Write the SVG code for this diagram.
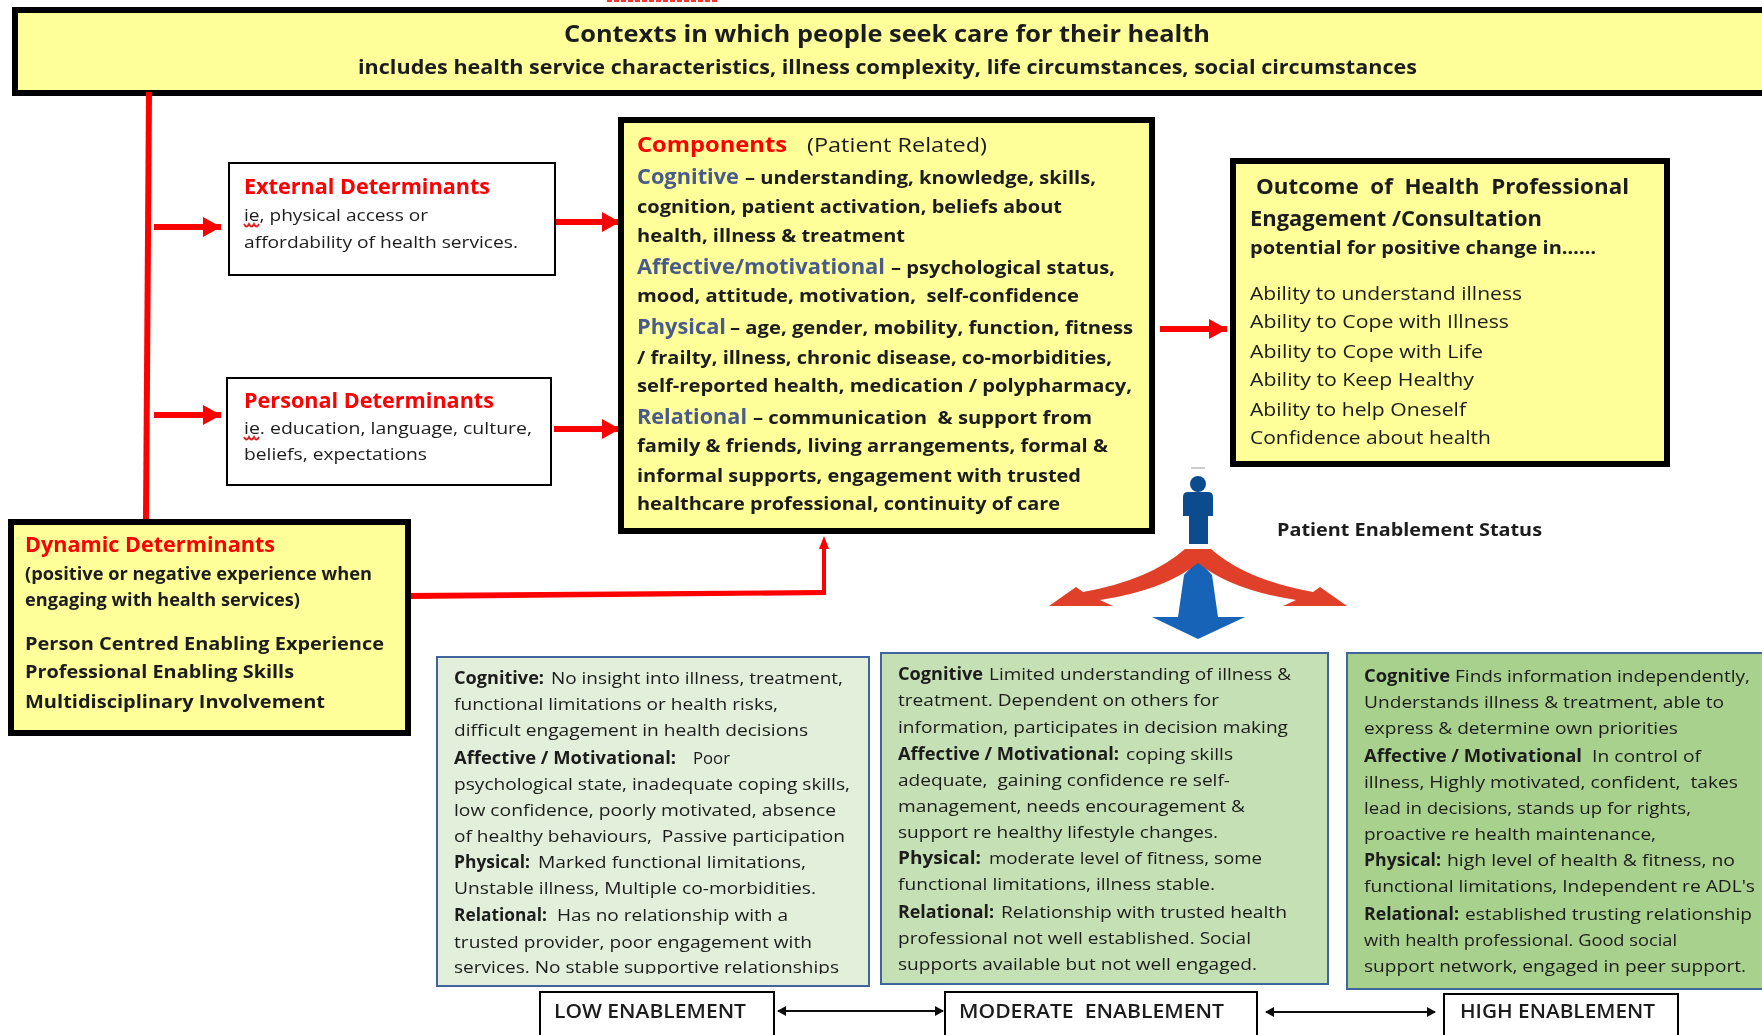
<svg xmlns="http://www.w3.org/2000/svg" width="1762" height="1035" viewBox="0 0 1762 1035">
<style>
text{font-family:"Open Sans","Noto Sans","Liberation Sans",sans-serif;fill:#1c1c1c;font-size:17px;white-space:pre}
.b{font-weight:700}
.s{font-weight:600}
.r{fill:#f00;font-weight:700;font-size:21px}
.c{fill:#4a5a8c;font-weight:700;font-size:22px}
.h{font-size:23px;font-weight:700}
.y{fill:#ffff99;stroke:#000;stroke-width:6}
.w{fill:#fff;stroke:#000;stroke-width:2}
.g{stroke:#41659c;stroke-width:2}
.a{fill:none;stroke:#f00;stroke-width:6;marker-end:url(#rh)}
.k{fill:none;stroke:#111;stroke-width:2;marker-start:url(#kh);marker-end:url(#kh)}
.z{fill:none;stroke:#d22;stroke-width:1.8}
</style>
<defs>
<marker id="rh" markerUnits="userSpaceOnUse" markerWidth="20" markerHeight="22" refX="18" refY="11" orient="auto"><path d="M0 1L18 11L0 21z" fill="#f00"/></marker>
<marker id="kh" markerUnits="userSpaceOnUse" markerWidth="10" markerHeight="12" refX="8" refY="6" orient="auto-start-reverse"><path d="M0 1L9 6L0 11z" fill="#111"/></marker>
<clipPath id="lowclip"><rect x="437" y="657" width="432" height="317"/></clipPath>
<filter id="soft" filterUnits="userSpaceOnUse" x="0" y="0" width="1762" height="1035"><feGaussianBlur stdDeviation="0.4"/></filter>
</defs>
<rect width="1762" height="1035" fill="#fff"/>
<g filter="url(#soft)">
<path d="M607 1H719" stroke="#f33" stroke-width="2" stroke-dasharray="5 2"/>
<g id="contexts">
<rect class="y" x="15" y="10" width="1760" height="83"/>
<text class="h" x="564" y="42" textLength="646" lengthAdjust="spacingAndGlyphs">Contexts in which people seek care for their health</text>
<text class="b" x="358" y="74" textLength="1059" lengthAdjust="spacingAndGlyphs" style="font-size:20px">includes health service characteristics, illness complexity, life circumstances, social circumstances</text>
</g>
<g id="connectors">
<path d="M149 92L146 520" fill="none" stroke="#f00" stroke-width="6"/>
<path class="a" d="M154 227H221"/>
<path class="a" d="M154 415H221"/>
<path class="a" d="M554 222H620"/>
<path class="a" d="M554 429H620"/>
<path class="a" d="M1160 329H1227"/>
<path d="M409 593L822 590V549H819L824 536L829 549H826V595L409 599z" fill="#f00"/>
<path class="k" d="M778 1011H943"/>
<path class="k" d="M1266 1012H1435"/>
</g>
<g id="external">
<rect class="w" x="229" y="163" width="326" height="112"/>
<text class="r" x="244" y="194" textLength="246" lengthAdjust="spacingAndGlyphs">External Determinants</text>
<text x="244" y="221" textLength="184" lengthAdjust="spacingAndGlyphs">ie, physical access or</text>
<text x="244" y="248" textLength="274" lengthAdjust="spacingAndGlyphs">affordability of health services.</text>
<path class="z" d="M244 224q2.5 5 5 0q2.5 5 5 0q2.5 5 5 0"/>
</g>
<g id="personal">
<rect class="w" x="227" y="378" width="324" height="107"/>
<text class="r" x="244" y="408" textLength="250" lengthAdjust="spacingAndGlyphs">Personal Determinants</text>
<text x="244" y="434" textLength="288" lengthAdjust="spacingAndGlyphs">ie. education, language, culture,</text>
<text x="244" y="460" textLength="183" lengthAdjust="spacingAndGlyphs">beliefs, expectations</text>
<path class="z" d="M244 437q2.5 5 5 0q2.5 5 5 0q2.5 5 5 0"/>
</g>
<g id="components">
<rect class="y" x="621" y="120" width="531" height="411"/>
<text class="r" x="637" y="152" textLength="150" lengthAdjust="spacingAndGlyphs">Components</text>
<text x="807" y="152" textLength="180" lengthAdjust="spacingAndGlyphs" style="font-size:20px">(Patient Related)</text>
<text class="c" x="637" y="184" textLength="102" lengthAdjust="spacingAndGlyphs">Cognitive</text>
<text class="b" x="745" y="184" textLength="351" lengthAdjust="spacingAndGlyphs" style="font-size:18px">– understanding, knowledge, skills,</text>
<text class="b" x="637" y="213" textLength="425" lengthAdjust="spacingAndGlyphs" style="font-size:18px">cognition, patient activation, beliefs about</text>
<text class="b" x="637" y="242" textLength="268" lengthAdjust="spacingAndGlyphs" style="font-size:18px">health, illness &amp; treatment</text>
<text class="c" x="637" y="274" textLength="248" lengthAdjust="spacingAndGlyphs">Affective/motivational</text>
<text class="b" x="891" y="274" textLength="224" lengthAdjust="spacingAndGlyphs" style="font-size:18px">– psychological status,</text>
<text class="b" x="637" y="302" textLength="442" lengthAdjust="spacingAndGlyphs" style="font-size:18px">mood, attitude, motivation,  self-confidence</text>
<text class="c" x="637" y="334" textLength="89" lengthAdjust="spacingAndGlyphs">Physical</text>
<text class="b" x="730" y="334" textLength="403" lengthAdjust="spacingAndGlyphs" style="font-size:18px">– age, gender, mobility, function, fitness</text>
<text class="b" x="637" y="364" textLength="475" lengthAdjust="spacingAndGlyphs" style="font-size:18px">/ frailty, illness, chronic disease, co-morbidities,</text>
<text class="b" x="637" y="392" textLength="495" lengthAdjust="spacingAndGlyphs" style="font-size:18px">self-reported health, medication / polypharmacy,</text>
<text class="c" x="637" y="424" textLength="110" lengthAdjust="spacingAndGlyphs">Relational</text>
<text class="b" x="753" y="424" textLength="339" lengthAdjust="spacingAndGlyphs" style="font-size:18px">– communication  &amp; support from</text>
<text class="b" x="637" y="452" textLength="471" lengthAdjust="spacingAndGlyphs" style="font-size:18px">family &amp; friends, living arrangements, formal &amp;</text>
<text class="b" x="637" y="482" textLength="444" lengthAdjust="spacingAndGlyphs" style="font-size:18px">informal supports, engagement with trusted</text>
<text class="b" x="637" y="510" textLength="423" lengthAdjust="spacingAndGlyphs" style="font-size:18px">healthcare professional, continuity of care</text>
</g>
<g id="outcome">
<rect class="y" x="1233" y="161" width="434" height="303"/>
<text class="b" x="1256" y="194" textLength="373" lengthAdjust="spacingAndGlyphs" style="font-size:21px">Outcome  of  Health  Professional</text>
<text class="b" x="1250" y="226" textLength="292" lengthAdjust="spacingAndGlyphs" style="font-size:21px">Engagement /Consultation</text>
<text class="b" x="1250" y="254" textLength="346" lengthAdjust="spacingAndGlyphs" style="font-size:18px">potential for positive change in……</text>
<text x="1250" y="300" textLength="272" lengthAdjust="spacingAndGlyphs" style="font-size:18px">Ability to understand illness</text>
<text x="1250" y="328" textLength="259" lengthAdjust="spacingAndGlyphs" style="font-size:18px">Ability to Cope with Illness</text>
<text x="1250" y="358" textLength="233" lengthAdjust="spacingAndGlyphs" style="font-size:18px">Ability to Cope with Life</text>
<text x="1250" y="386" textLength="224" lengthAdjust="spacingAndGlyphs" style="font-size:18px">Ability to Keep Healthy</text>
<text x="1250" y="416" textLength="216" lengthAdjust="spacingAndGlyphs" style="font-size:18px">Ability to help Oneself</text>
<text x="1250" y="444" textLength="241" lengthAdjust="spacingAndGlyphs" style="font-size:18px">Confidence about health</text>
</g>
<g id="dynamic">
<rect class="y" x="11" y="522" width="397" height="211"/>
<text class="r" x="25" y="552" textLength="250" lengthAdjust="spacingAndGlyphs">Dynamic Determinants</text>
<text class="b" x="25" y="580" textLength="347" lengthAdjust="spacingAndGlyphs">(positive or negative experience when</text>
<text class="b" x="25" y="606" textLength="275" lengthAdjust="spacingAndGlyphs">engaging with health services)</text>
<text class="b" x="25" y="650" textLength="359" lengthAdjust="spacingAndGlyphs" style="font-size:18px">Person Centred Enabling Experience</text>
<text class="b" x="25" y="678" textLength="269" lengthAdjust="spacingAndGlyphs" style="font-size:18px">Professional Enabling Skills</text>
<text class="b" x="25" y="708" textLength="300" lengthAdjust="spacingAndGlyphs" style="font-size:18px">Multidisciplinary Involvement</text>
</g>
<g id="status-figure">
<path d="M1191 468H1205" stroke="#999" stroke-width="1"/>
<circle cx="1198" cy="484" r="8" fill="#0f4c8f"/>
<path d="M1188 492H1208Q1213 492 1213 497V516H1208V544H1189V516H1183V497Q1183 492 1188 492z" fill="#0f4c8f"/>
<path d="M1198 560L1212 575L1218 617H1245L1198 639L1152 617H1178L1184 575z" fill="#1464b8"/>
<path d="M1185 549H1211Q1246 580 1313 592L1320 587L1347 606H1283L1296 600Q1231 590 1198 563Q1165 590 1100 600L1113 606H1049L1076 587L1083 592Q1150 580 1185 549z" fill="#e0402a"/>
<text class="b" x="1277" y="536" textLength="265" lengthAdjust="spacingAndGlyphs" style="font-size:18px">Patient Enablement Status</text>
</g>
<g id="low-box">
<rect class="g" x="437" y="657" width="432" height="329" fill="#e2efda"/>
<g clip-path="url(#lowclip)">
<text class="b" x="454" y="684" textLength="90" lengthAdjust="spacingAndGlyphs">Cognitive:</text>
<text x="551" y="684" textLength="292" lengthAdjust="spacingAndGlyphs">No insight into illness, treatment,</text>
<text x="454" y="710" textLength="324" lengthAdjust="spacingAndGlyphs">functional limitations or health risks,</text>
<text x="454" y="736" textLength="354" lengthAdjust="spacingAndGlyphs">difficult engagement in health decisions</text>
<text class="b" x="454" y="764" textLength="222" lengthAdjust="spacingAndGlyphs">Affective / Motivational:</text>
<text x="693" y="764" textLength="37" lengthAdjust="spacingAndGlyphs">Poor</text>
<text x="454" y="790" textLength="396" lengthAdjust="spacingAndGlyphs">psychological state, inadequate coping skills,</text>
<text x="454" y="816" textLength="382" lengthAdjust="spacingAndGlyphs">low confidence, poorly motivated, absence</text>
<text x="454" y="842" textLength="391" lengthAdjust="spacingAndGlyphs">of healthy behaviours,  Passive participation</text>
<text class="b" x="454" y="868" textLength="76" lengthAdjust="spacingAndGlyphs">Physical:</text>
<text x="538" y="868" textLength="268" lengthAdjust="spacingAndGlyphs">Marked functional limitations,</text>
<text x="454" y="894" textLength="362" lengthAdjust="spacingAndGlyphs">Unstable illness, Multiple co-morbidities.</text>
<text class="b" x="454" y="921" textLength="93" lengthAdjust="spacingAndGlyphs">Relational:</text>
<text x="557" y="921" textLength="231" lengthAdjust="spacingAndGlyphs">Has no relationship with a</text>
<text x="454" y="948" textLength="358" lengthAdjust="spacingAndGlyphs">trusted provider, poor engagement with</text>
<text x="454" y="973" textLength="385" lengthAdjust="spacingAndGlyphs">services. No stable supportive relationships</text>
</g>
</g>
<g id="moderate-box">
<rect class="g" x="881" y="653" width="447" height="331" fill="#c5e0b4"/>
<text class="b" x="898" y="680" textLength="85" lengthAdjust="spacingAndGlyphs">Cognitive</text>
<text x="989" y="680" textLength="302" lengthAdjust="spacingAndGlyphs">Limited understanding of illness &amp;</text>
<text x="898" y="706" textLength="321" lengthAdjust="spacingAndGlyphs">treatment. Dependent on others for</text>
<text x="898" y="733" textLength="390" lengthAdjust="spacingAndGlyphs">information, participates in decision making</text>
<text class="b" x="898" y="760" textLength="221" lengthAdjust="spacingAndGlyphs">Affective / Motivational:</text>
<text x="1126" y="760" textLength="107" lengthAdjust="spacingAndGlyphs">coping skills</text>
<text x="898" y="786" textLength="332" lengthAdjust="spacingAndGlyphs">adequate,  gaining confidence re self-</text>
<text x="898" y="812" textLength="347" lengthAdjust="spacingAndGlyphs">management, needs encouragement &amp;</text>
<text x="898" y="838" textLength="320" lengthAdjust="spacingAndGlyphs">support re healthy lifestyle changes.</text>
<text class="b" x="898" y="864" textLength="83" lengthAdjust="spacingAndGlyphs">Physical:</text>
<text x="989" y="864" textLength="273" lengthAdjust="spacingAndGlyphs">moderate level of fitness, some</text>
<text x="898" y="890" textLength="317" lengthAdjust="spacingAndGlyphs">functional limitations, illness stable.</text>
<text class="b" x="898" y="918" textLength="96" lengthAdjust="spacingAndGlyphs">Relational:</text>
<text x="1001" y="918" textLength="286" lengthAdjust="spacingAndGlyphs">Relationship with trusted health</text>
<text x="898" y="944" textLength="353" lengthAdjust="spacingAndGlyphs">professional not well established. Social</text>
<text x="898" y="970" textLength="359" lengthAdjust="spacingAndGlyphs">supports available but not well engaged.</text>
</g>
<g id="high-box">
<rect class="g" x="1347" y="653" width="430" height="336" fill="#a9d18e"/>
<text class="b" x="1364" y="682" textLength="86" lengthAdjust="spacingAndGlyphs">Cognitive</text>
<text x="1455" y="682" textLength="295" lengthAdjust="spacingAndGlyphs">Finds information independently,</text>
<text x="1364" y="708" textLength="360" lengthAdjust="spacingAndGlyphs">Understands illness &amp; treatment, able to</text>
<text x="1364" y="734" textLength="314" lengthAdjust="spacingAndGlyphs">express &amp; determine own priorities</text>
<text class="b" x="1364" y="762" textLength="218" lengthAdjust="spacingAndGlyphs">Affective / Motivational</text>
<text x="1592" y="762" textLength="109" lengthAdjust="spacingAndGlyphs">In control of</text>
<text x="1364" y="788" textLength="374" lengthAdjust="spacingAndGlyphs">illness, Highly motivated, confident,  takes</text>
<text x="1364" y="814" textLength="327" lengthAdjust="spacingAndGlyphs">lead in decisions, stands up for rights,</text>
<text x="1364" y="840" textLength="292" lengthAdjust="spacingAndGlyphs">proactive re health maintenance,</text>
<text class="b" x="1364" y="866" textLength="77" lengthAdjust="spacingAndGlyphs">Physical:</text>
<text x="1447" y="866" textLength="288" lengthAdjust="spacingAndGlyphs">high level of health &amp; fitness, no</text>
<text x="1364" y="892" textLength="391" lengthAdjust="spacingAndGlyphs">functional limitations, Independent re ADL's</text>
<text class="b" x="1364" y="920" textLength="95" lengthAdjust="spacingAndGlyphs">Relational:</text>
<text x="1465" y="920" textLength="287" lengthAdjust="spacingAndGlyphs">established trusting relationship</text>
<text x="1364" y="946" textLength="313" lengthAdjust="spacingAndGlyphs">with health professional. Good social</text>
<text x="1364" y="972" textLength="382" lengthAdjust="spacingAndGlyphs">support network, engaged in peer support.</text>
</g>
<g id="low-label">
<rect class="w" x="540" y="992" width="234" height="50"/>
<text class="s" x="554" y="1018" textLength="192" lengthAdjust="spacingAndGlyphs" style="font-size:19px">LOW ENABLEMENT</text>
</g>
<g id="moderate-label">
<rect class="w" x="945" y="992" width="312" height="50"/>
<text class="s" x="959" y="1018" textLength="265" lengthAdjust="spacingAndGlyphs" style="font-size:19px">MODERATE  ENABLEMENT</text>
</g>
<g id="high-label">
<rect class="w" x="1444" y="994" width="234" height="50"/>
<text class="s" x="1460" y="1018" textLength="195" lengthAdjust="spacingAndGlyphs" style="font-size:19px">HIGH ENABLEMENT</text>
</g>
</g>
</svg>
